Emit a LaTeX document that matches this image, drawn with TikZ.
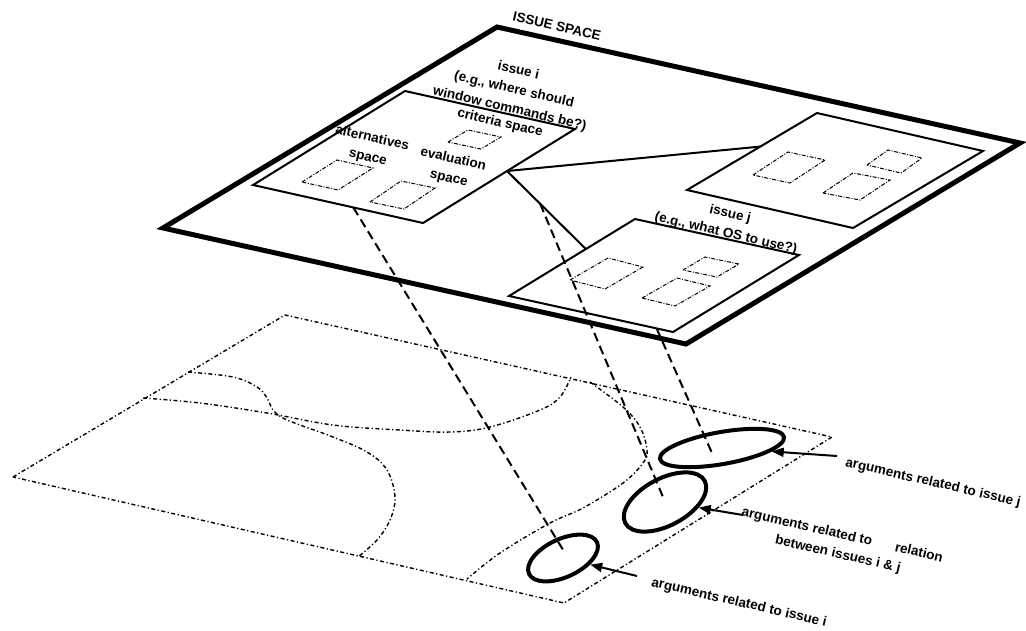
\documentclass[tikz,border=0pt]{standalone}
\usepackage{fontspec}
\setmainfont{Liberation Sans}
\usetikzlibrary{arrows.meta,calc,shapes.geometric}
\begin{document}
\begin{tikzpicture}[x=1pt,y=-1pt,
  outerbox/.style={line width=5pt, line join=miter},
  issuebox/.style={line width=2pt, line join=miter},
  subspace/.style={line width=1pt, dash pattern=on 4pt off 1.5pt on 1pt off 1.5pt},
  link/.style={line width=2pt},
  proj/.style={line width=2pt, dash pattern=on 9pt off 5pt},
  plane/.style={line width=1.4pt, dash pattern=on 4pt off 2.5pt on 1.2pt off 2.5pt},
  argell/.style={ellipse, draw, line width=4pt, inner sep=0pt},
  argarrow/.style={line width=2pt, -{Triangle[length=12pt,width=9pt]}},
  lbl/.style={font=\fontsize{13.5}{19.5}\selectfont\bfseries, rotate=-13, align=center, inner sep=0pt},
]
\useasboundingbox (0,0) rectangle (1026,630);
\fill[white] (0,0) rectangle (1026,630);

% corners
\coordinate (oT) at (497,27);  \coordinate (oL) at (163,228);
\coordinate (oB) at (686,344); \coordinate (oR) at (1020,143);
\coordinate (iT) at (405,91);  \coordinate (iL) at (253,185);
\coordinate (iB) at (423,223); \coordinate (iR) at (575,129);
\coordinate (uT) at (817,113); \coordinate (uL) at (687,190);
\coordinate (uB) at (853,228); \coordinate (uR) at (983,151);
\coordinate (jT) at (635,219); \coordinate (jL) at (509,296);
\coordinate (jB) at (673,332); \coordinate (jR) at (799,255);
\coordinate (pL) at (13,477);  \coordinate (pT) at (285,315);
\coordinate (pR) at (832,437); \coordinate (pB) at (564,603);

% lower plane (argument space)
\draw[plane] (pL) -- (pT) -- (pR) -- (pB) -- cycle;
\draw[plane] plot[smooth, tension=0.6] coordinates {(143,398) (200,403) (267,413) (333,425) (400,430) (450,432) (490,427) (540,410) (560,397) (571,377)};
\draw[plane] plot[smooth, tension=0.6] coordinates {(188,372) (233,377) (257,387) (267,398) (273,410) (283,418) (300,425) (333,437) (367,452) (387,470) (395,497) (390,520) (377,540) (358,557)};
\draw[plane] plot[smooth, tension=0.6] coordinates {(590,382) (623,407) (640,427) (647,450) (643,463) (623,483) (583,508) (550,523) (500,553) (467,579)};

% issue space
\draw[outerbox] (oT) -- (oR) -- (oB) -- (oL) -- cycle;
\draw[issuebox] (iT) -- (iR) -- (iB) -- (iL) -- cycle;
\draw[issuebox] (uT) -- (uR) -- (uB) -- (uL) -- cycle;
\draw[issuebox] (jT) -- (jR) -- (jB) -- (jL) -- cycle;

% sub-spaces
\draw[subspace] (302,182) -- ++(35,-22) -- ++(36,8) -- ++(-35,22) -- cycle;
\draw[subspace] (370,202) -- ++(31,-21) -- ++(34,7) -- ++(-31,21) -- cycle;
\draw[subspace] (448,142) -- ++(20,-12) -- ++(33,7) -- ++(-20,12) -- cycle;
\draw[subspace] (753,175) -- ++(35,-23) -- ++(37,8) -- ++(-35,23) -- cycle;
\draw[subspace] (867,165) -- ++(21,-15) -- ++(34,8) -- ++(-21,15) -- cycle;
\draw[subspace] (823,193) -- ++(30,-20) -- ++(37,7) -- ++(-30,20) -- cycle;
\draw[subspace] (570,280) -- ++(38,-22) -- ++(35,9) -- ++(-38,22) -- cycle;
\draw[subspace] (683,270) -- ++(22,-13) -- ++(34,7) -- ++(-22,13) -- cycle;
\draw[subspace] (642,298) -- ++(35,-20) -- ++(33,8) -- ++(-35,20) -- cycle;

% links between issues
\coordinate (ci) at ($(iR)!0.447!(iB)$);
\coordinate (cu) at ($(uT)!0.436!(uL)$);
\coordinate (cj) at ($(jT)!0.39!(jL)$);
\draw[link] (ci) -- (cu);
\draw[link] (ci) -- (cj);

% argument clusters
\node[argell, minimum width=126pt, minimum height=32pt, rotate=10] (ej) at (722,448) {};
\node[argell, minimum width=90pt, minimum height=47pt, rotate=28] (eij) at (665,502) {};
\node[argell, minimum width=75pt, minimum height=38pt, rotate=25] (ei) at (563,558) {};

% projections
\coordinate (pa) at ($(iL)!0.59!(iB)$);
\coordinate (pb) at ($(ci)!0.42!(cj)$);
\coordinate (pc) at ($(jL)!0.90!(jB)$);
\coordinate (ea) at (565,553);
\coordinate (eb) at (663,497);
\coordinate (ec) at (712,453);
\draw[proj] (pa) -- (ea);
\draw[proj] (pb) -- (eb);
\draw[proj] (pc) -- (ec);

% labels
\node[lbl] (tSpace) at (557,26) {ISSUE SPACE};
\node[lbl] (tI) at (514,90) {issue i\\(e.g., where should\\window commands be?)};
\node[lbl] (tCrit) at (500,123) {criteria space};
\node[lbl] (tAlt) at (370,148) {alternatives\\space};
\node[lbl] (tEval) at (451,169) {evaluation\\space};
\node[lbl] (tJ) at (728,224) {issue j\\(e.g., what OS to use?)};
\node[lbl] (aJ) at (933,483) {arguments related to issue j};
\node[lbl] (aIJ) at (840,545) {arguments related to \hspace{1.2em} relation\\between issues i \& j};
\node[lbl] (aI) at (739,603) {arguments related to issue i};

% arrows
\coordinate (tj) at (837,456);
\coordinate (tij) at (743,515);
\coordinate (ti) at (637,576);
\draw[argarrow] (tj) -- (ej);
\draw[argarrow] (tij) -- (eij);
\draw[argarrow] (ti) -- (ei);
\end{tikzpicture}
\end{document}
